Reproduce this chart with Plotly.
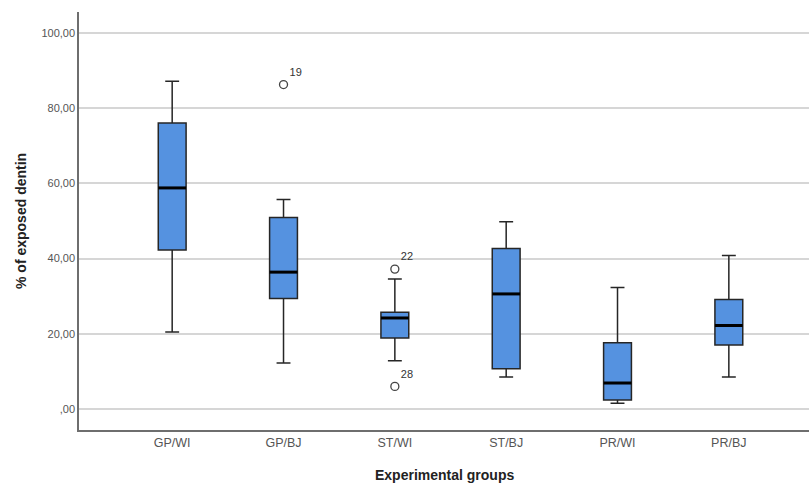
import plotly.graph_objects as go

groups = ["GP/WI", "GP/BJ", "ST/WI", "ST/BJ", "PR/WI", "PR/BJ"]
lower_whisker = [20.5, 12.2, 12.8, 8.5, 1.5, 8.5]
q1 = [42.3, 29.4, 18.9, 10.7, 2.4, 17.0]
median = [58.8, 36.4, 24.2, 30.6, 6.9, 22.2]
q3 = [76.1, 50.9, 25.7, 42.7, 17.6, 29.1]
upper_whisker = [87.2, 55.7, 34.6, 49.8, 32.3, 40.8]

outlier_groups = ["GP/BJ", "ST/WI", "ST/WI"]
outlier_values = [86.3, 37.2, 6.0]
outlier_labels = ["19", "22", "28"]

y_ticks = [0, 20, 40, 60, 80, 100]
y_tick_labels = [",00", "20,00", "40,00", "60,00", "80,00", "100,00"]

box_width = 0.25
fill = "#5592E0"
edge = "#262626"

fig = go.Figure()
fig.add_trace(go.Box(
    x=groups, q1=q1, median=median, q3=q3,
    lowerfence=lower_whisker, upperfence=upper_whisker,
    fillcolor=fill, line=dict(color=edge, width=1.5),
    width=box_width, whiskerwidth=0.5, boxpoints=False,
    showlegend=False, hoverinfo="skip",
))
fig.add_trace(go.Scatter(
    x=outlier_groups, y=outlier_values, mode="markers+text",
    text=outlier_labels, textposition="top right",
    textfont=dict(family="Liberation Sans, Arial", size=11, color="#333333"),
    marker=dict(symbol="circle-open", size=8, color="#444444", line=dict(width=1.3)),
    showlegend=False, hoverinfo="skip", cliponaxis=False,
))

shapes = []
for i, m in enumerate(median):
    shapes.append(dict(type="line", xref="x", yref="y",
                       x0=i - box_width / 2, x1=i + box_width / 2, y0=m, y1=m,
                       line=dict(color="#000000", width=3), layer="above"))

fig.update_layout(
    width=809, height=485,
    margin=dict(l=79, r=0, t=12, b=55),
    paper_bgcolor="white", plot_bgcolor="white",
    font=dict(family="Liberation Sans, Arial", color="#333333"),
    shapes=shapes,
    xaxis=dict(
        type="category", categoryorder="array", categoryarray=groups,
        range=[-0.837, 5.72], showgrid=False, zeroline=False,
        showline=True, linecolor="#6e6e6e", linewidth=1.5,
        ticks="", tickfont=dict(size=12.5, color="#555555"),
    ),
    yaxis=dict(
        range=[-5.6, 105.6], tickvals=y_ticks, ticktext=y_tick_labels,
        showgrid=True, gridcolor="#d6d6d6", gridwidth=1.5, zeroline=False,
        showline=True, linecolor="#6e6e6e", linewidth=1.5,
        ticks="", tickfont=dict(size=11, color="#555555"),
    ),
    annotations=[
        dict(text="<b>% of exposed dentin</b>", xref="paper", yref="paper",
             x=0, y=0.5, xanchor="center", yanchor="middle", xshift=-58,
             textangle=-90, showarrow=False,
             font=dict(size=14, color="#222222")),
        dict(text="<b>Experimental groups</b>", xref="paper", yref="paper",
             x=0.5, y=0, xanchor="center", yanchor="middle", yshift=-45,
             showarrow=False, font=dict(size=14, color="#222222")),
    ],
)

fig.write_html("out.html", config={"displayModeBar": False},
               post_script="document.body.style.margin='0';")
